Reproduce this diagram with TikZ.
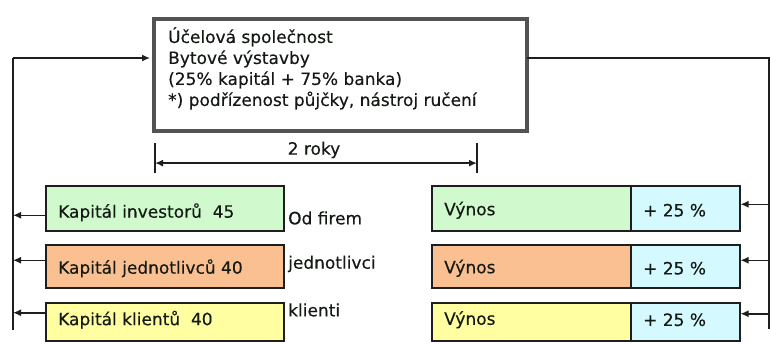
\documentclass[tikz,border=0pt]{standalone}
\usepackage{fontspec}
\setmainfont{DejaVu Sans}[UprightFeatures={FakeBold=0.3}]
\usetikzlibrary{arrows.meta,calc}
\definecolor{cgreen}{RGB}{208,250,206}
\definecolor{corange}{RGB}{250,192,146}
\definecolor{cyellow}{RGB}{255,255,162}
\definecolor{ccyan}{RGB}{212,250,255}
\definecolor{cline}{RGB}{30,30,30}
\definecolor{ctext}{RGB}{20,25,20}
\begin{document}
\begin{tikzpicture}[x=1pt,y=-1pt,
  every node/.style={text=ctext,font=\fontsize{17}{21}\selectfont},
  cellbox/.style={draw=cline,line width=1.5pt,inner sep=0pt,anchor=north west},
  plain/.style={draw=cline,line width=1.5pt},
  arr/.style={plain,-{Latex[length=8pt,width=7pt]}},
  lbl/.style={anchor=west,inner sep=0pt},
]
\useasboundingbox (0,0) rectangle (771,343);

% main box
\node[draw=gray!65!black,line width=4pt,fill=white,minimum width=373pt,minimum height=112pt,anchor=north west,inner sep=0pt] (main) at (152,17) {};
\node[anchor=north west,align=left,inner sep=0pt] (maintext) at (168,27)
  {Účelová společnost\\Bytové výstavby\\(25\% kapitál + 75\% banka)\\*) podřízenost půjčky, nástroj ručení};

% left boxes
\node[cellbox,fill=cgreen,minimum width=238pt,minimum height=45pt] (L1) at (45,185) {};
\node[cellbox,fill=corange,minimum width=238pt,minimum height=43pt] (L2) at (45,244) {};
\node[cellbox,fill=cyellow,minimum width=238pt,minimum height=38pt] (L3) at (45,302) {};
\node[lbl] (t1) at ([xshift=13pt,yshift=-4pt]L1.west) {Kapitál investorů\ \ 45};
\node[lbl] (t2) at ([xshift=13pt,yshift=-2pt]L2.west) {Kapitál jednotlivců 40};
\node[lbl] (t3) at ([xshift=13pt,yshift=2pt]L3.west) {Kapitál klientů\ \ 40};

% side labels
\node[lbl] (s1) at (288,218) {Od firem};
\node[lbl] (s2) at (288,264) {jednotlivci};
\node[lbl] (s3) at (288,310) {klienti};

% right boxes
\node[cellbox,fill=cgreen,minimum width=199pt,minimum height=45pt] (V1) at (431,185) {};
\node[cellbox,fill=ccyan,minimum width=109pt,minimum height=45pt] (P1) at (630,185) {};
\node[cellbox,fill=corange,minimum width=199pt,minimum height=43pt] (V2) at (431,244) {};
\node[cellbox,fill=ccyan,minimum width=109pt,minimum height=43pt] (P2) at (630,244) {};
\node[cellbox,fill=cyellow,minimum width=199pt,minimum height=38pt] (V3) at (431,302) {};
\node[cellbox,fill=ccyan,minimum width=109pt,minimum height=38pt] (P3) at (630,302) {};
\node[lbl] (v1t) at ([xshift=13pt,yshift=-2pt]V1.west) {Výnos};
\node[lbl] (v2t) at ([xshift=13pt,yshift=-2pt]V2.west) {Výnos};
\node[lbl] (v3t) at ([xshift=13pt,yshift=2pt]V3.west) {Výnos};
\node[lbl] (p1t) at ([xshift=13pt,yshift=-2pt]P1.west) {+ 25 \%};
\node[lbl] (p2t) at ([xshift=13pt,yshift=-2pt]P2.west) {+ 25 \%};
\node[lbl] (p3t) at ([xshift=13pt,yshift=2pt]P3.west) {+ 25 \%};

% left loop
\coordinate (LT) at (13,58);
\coordinate (LB) at (13,330);
\coordinate (MI) at (150,58);
\draw[plain] (LB) -- (LT);
\draw[arr] (LT) -- (MI);
\draw[arr] ([yshift=-7pt]L1.west) -- ([yshift=-7pt]L1.west -| LT);
\draw[arr] ([yshift=6pt]L2.west) -- ([yshift=6pt]L2.west -| LT);
\draw[arr] ([yshift=9pt]L3.west) -- ([yshift=9pt]L3.west -| LT);

% right loop
\coordinate (RT) at (769,58);
\coordinate (RB) at (769,329);
\coordinate (MO) at (527,58);
\draw[plain] (MO) -- (RT) -- (RB);
\draw[arr] ([yshift=4pt]P1.east -| RT) -- ([yshift=4pt]P1.east);
\draw[arr] ([yshift=6pt]P2.east -| RT) -- ([yshift=6pt]P2.east);
\draw[arr] ([yshift=8pt]P3.east -| RT) -- ([yshift=8pt]P3.east);

% 2 roky dimension
\coordinate (DLa) at (155,143);
\coordinate (DLb) at (155,173);
\coordinate (DRa) at (477,143);
\coordinate (DRb) at (477,173);
\draw[plain,line width=2pt] (DLa) -- (DLb);
\draw[plain,line width=2pt] (DRa) -- (DRb);
\draw[plain,{Latex[length=8pt,width=7pt]}-{Latex[length=8pt,width=7pt]}] ($(DLa)!0.67!(DLb)$) -- ($(DRa)!0.67!(DRb)$);
\node (roky) at (314,150) {2 roky};
\end{tikzpicture}
\end{document}
